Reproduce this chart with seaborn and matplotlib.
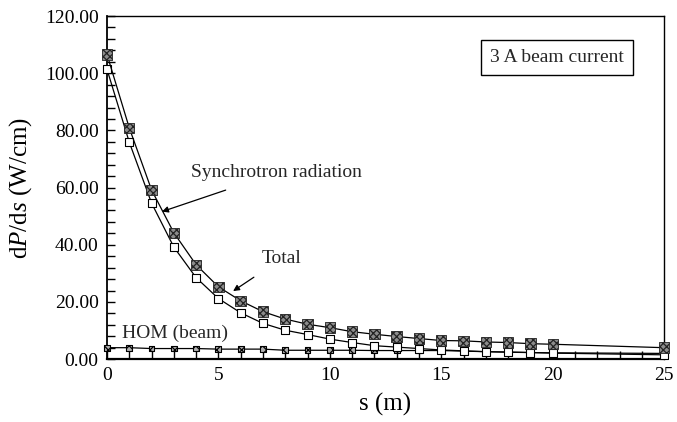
import numpy as np
import pandas as pd
import matplotlib
matplotlib.use('Agg')
import matplotlib.pyplot as plt
import seaborn as sns
from matplotlib.ticker import MultipleLocator, FormatStrFormatter

# --- Data ---
s_m = [0, 1, 2, 3, 4, 5, 6, 7, 8, 9, 10, 11, 12, 13, 14, 15, 16, 17, 18, 19, 20, 25]
total = [106.6, 80.9, 59.2, 44.2, 33.0, 25.3, 20.4, 16.6, 14.0, 12.2, 11.0, 9.6,
         8.7, 7.9, 7.2, 6.5, 6.4, 6.0, 5.8, 5.4, 5.2, 4.0]
synchrotron = [101.4, 75.9, 54.6, 39.2, 28.5, 21.2, 16.2, 12.5, 10.1, 8.6, 7.0, 5.8,
               4.7, 4.2, 3.7, 3.2, 2.9, 2.6, 2.4, 2.3, 2.1, 1.5]
hom_beam = [4.0, 4.0, 3.7, 3.7, 3.7, 3.5, 3.5, 3.5, 3.1, 3.1, 3.1, 3.1,
            3.0, 3.0, 3.0, 3.0, 2.8, 2.6, 2.5, 2.3, 2.2, 2.0]

df = pd.DataFrame({'s': s_m, 'total': total, 'sync': synchrotron, 'hom': hom_beam})

sns.set_style('white')
plt.rcParams['font.family'] = ['Liberation Serif', 'DejaVu Serif']
plt.rcParams['mathtext.fontset'] = 'custom'
plt.rcParams['mathtext.rm'] = 'Liberation Serif'
plt.rcParams['mathtext.it'] = 'Liberation Serif:italic'
plt.rcParams['hatch.linewidth'] = 0.9
plt.rcParams['hatch.color'] = 'black'

fig = plt.figure(figsize=(6.77, 4.22), dpi=100)
ax = fig.add_axes([0.158, 0.149, 0.823, 0.813])

# HOM (beam)
sns.lineplot(data=df, x='s', y='hom', ax=ax, color='black', lw=0.9, zorder=2)
sns.scatterplot(data=df, x='s', y='hom', ax=ax, marker='s', s=18, color='#b0b0b0',
                edgecolor='black', linewidth=0.8, hatch='xxxx', zorder=3, clip_on=False)

# Synchrotron radiation
sns.lineplot(data=df, x='s', y='sync', ax=ax, color='black', lw=0.9, zorder=4)
sns.scatterplot(data=df, x='s', y='sync', ax=ax, marker='s', s=26, color='white',
                edgecolor='black', linewidth=0.8, zorder=5, clip_on=False)

# Total
sns.lineplot(data=df, x='s', y='total', ax=ax, color='black', lw=0.9, zorder=6)
sns.scatterplot(data=df, x='s', y='total', ax=ax, marker='s', s=56, color='#8c8c8c',
                edgecolor='#222222', linewidth=0.6, hatch='xxxxx', zorder=7, clip_on=False)

ax.set_xlim(0, 25)
ax.set_ylim(0, 120)
ax.xaxis.set_major_locator(MultipleLocator(5))
ax.xaxis.set_minor_locator(MultipleLocator(1))
ax.yaxis.set_major_locator(MultipleLocator(20))
ax.yaxis.set_minor_locator(MultipleLocator(4))
ax.yaxis.set_major_formatter(FormatStrFormatter('%.2f'))
ax.tick_params(which='both', direction='in', length=6, width=1, color='black',
               labelsize=14, labelcolor='black', left=True, bottom=True,
               top=False, right=False, pad=6)
for sp in ax.spines.values():
    sp.set_color('black')
    sp.set_linewidth(1.0)
ax.spines['bottom'].set_linewidth(1.6)
ax.spines['left'].set_linewidth(1.3)

ax.set_xlabel('s (m)', fontsize=18, color='black', labelpad=6)
ax.set_ylabel(r'd$\it{P}$/d$\it{s}$ (W/cm)', fontsize=18, color='black', labelpad=8)

# Annotations
ax.annotate('Synchrotron radiation', xy=(2.47, 51.6), xytext=(7.6, 65.1),
            fontsize=14, ha='center', va='center',
            arrowprops=dict(arrowstyle='-|>', color='black', lw=0.9,
                            mutation_scale=9, shrinkA=12, shrinkB=0))
ax.annotate('Total', xy=(5.66, 23.8), xytext=(7.85, 35.2),
            fontsize=14, ha='center', va='center',
            arrowprops=dict(arrowstyle='-|>', color='black', lw=0.9,
                            mutation_scale=9, shrinkA=9, shrinkB=0))
ax.text(3.05, 9.1, 'HOM (beam)', fontsize=14, ha='center', va='center')
ax.text(20.2, 105.5, '3 A beam current', fontsize=14, ha='center', va='center',
        bbox=dict(boxstyle='square,pad=0.45', facecolor='white', edgecolor='black', lw=1))

fig.savefig('out.png', dpi=100)
